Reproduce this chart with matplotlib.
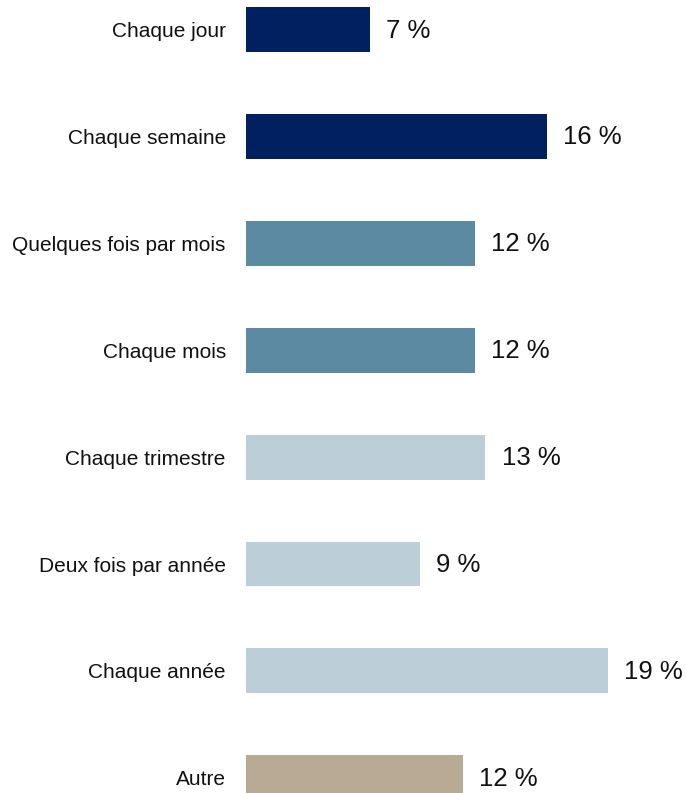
import numpy as np
import matplotlib
matplotlib.use('Agg')
import matplotlib.pyplot as plt

plt.rcParams['font.family'] = ['Liberation Sans', 'DejaVu Sans']

categories = ['Chaque jour', 'Chaque semaine', 'Quelques fois par mois', 'Chaque mois',
              'Chaque trimestre', 'Deux fois par année', 'Chaque année', 'Autre']
values = [6.5, 15.85, 12.05, 12.05, 12.6, 9.15, 19.05, 11.4]
value_labels = ['7 %', '16 %', '12 %', '12 %', '13 %', '9 %', '19 %', '12 %']
colors = ['#002060', '#002060', '#5B8AA2', '#5B8AA2',
          '#BCCFD8', '#BCCFD8', '#BCCFD8', '#B9AA94']

W, H = 686, 793
fig = plt.figure(figsize=(W / 100, H / 100), dpi=100)
ax = fig.add_axes([246 / W, 0, 1 - 246 / W, 1])

y = np.arange(len(categories))
ax.barh(y, values, height=0.42, color=colors)

for yi, v, lab in zip(y, values, value_labels):
    ax.text(v + 0.85, yi + 0.01, lab, va='center', ha='left', fontsize=18.5, color='#111111')

# pixel scale: ~19 px per percent, bars ~107 px apart
ax.set_xlim(0, (W - 246) / 19.0)
ax.set_ylim((H - 29.5) / 106.9, -29.5 / 106.9)

ax.set_yticks(y)
ax.set_yticklabels(categories, fontsize=15, color='#111111')
ax.tick_params(axis='y', length=0, pad=14.5)
ax.set_xticks([])
for s in ax.spines.values():
    s.set_visible(False)

fig.savefig('out.png', dpi=100)
